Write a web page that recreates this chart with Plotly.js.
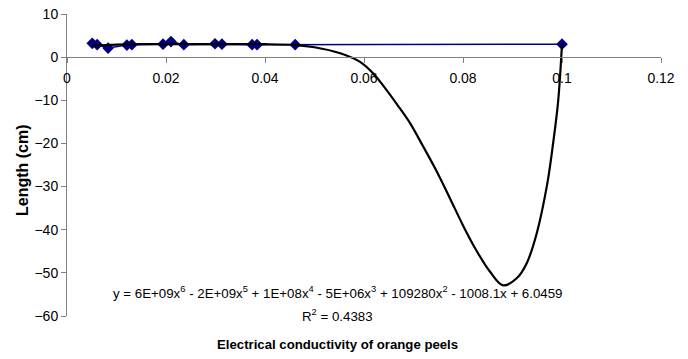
<!DOCTYPE html>
<html>
<head>
<meta charset="utf-8">
<script src="https://cdn.plot.ly/plotly-3.0.1.min.js"></script>
<style>html,body{margin:0;padding:0;background:#fff;}#chart{width:688px;height:359px;}</style>
</head>
<body>
<div id="chart"></div>
<script>
// Observed data points (electrical conductivity vs length)
var conductivity = [0.0051, 0.0061, 0.0083, 0.0121, 0.0131, 0.0194, 0.0210, 0.0236, 0.0299, 0.0313, 0.0374, 0.0384, 0.0461, 0.1000];
var lengthCm     = [3.2,    2.9,    2.1,    2.8,    2.9,    3.0,    3.6,    2.9,    3.1,    3.0,    2.9,    2.9,    2.9,    3.0];

// Polynomial (order 6) trendline
var trendX = [0.0051, 0.010, 0.015, 0.020, 0.025, 0.030, 0.035, 0.040, 0.0461, 0.0500, 0.0552, 0.0592, 0.0618, 0.0638, 0.0667, 0.0693, 0.0719, 0.0747, 0.0774, 0.0800, 0.0828, 0.0855, 0.0881, 0.0909, 0.0929, 0.0949, 0.0970, 0.0982, 0.0992, 0.1000];
var trendY = [2.6,    2.9,   3.0,   3.0,   3.0,   3.0,   3.0,   3.0,   2.8,    2.3,    0.9,    -1.1,   -3.7,   -6.5,   -11.0,  -15.3,  -20.6,  -26.5,  -32.8,  -39.0,  -45.0,  -49.8,  -52.9,  -51.2,  -47.7,  -40.8,  -29.5,  -20.0,  -10.5,  3.0];

var xTicks = [0, 0.02, 0.04, 0.06, 0.08, 0.1, 0.12];
var xTickText = ['0', '0.02', '0.04', '0.06', '0.08', '0.1', '0.12'];
var yTicks = [-60, -50, -40, -30, -20, -10, 0, 10];

var equationText = 'y = 6E+09x<sup>6</sup> - 2E+09x<sup>5</sup> + 1E+08x<sup>4</sup> - 5E+06x<sup>3</sup> + 109280x<sup>2</sup> - 1008.1x + 6.0459';
var r2Text = 'R<sup>2</sup> = 0.4383';
var xTitle = '<b>Electrical conductivity of orange peels</b>';
var yTitle = '<b>Length (cm)</b>';

var font = 'Liberation Sans, Arial, sans-serif';

var traces = [
  {
    x: conductivity, y: lengthCm, type: 'scatter', mode: 'lines+markers',
    line: {color: '#000080', width: 1.5},
    marker: {symbol: 'diamond', size: 9, color: '#000080', line: {color: '#000080', width: 0}},
    hoverinfo: 'skip', showlegend: false
  },
  {
    x: trendX, y: trendY, type: 'scatter', mode: 'lines',
    line: {color: '#000000', width: 2.2, shape: 'spline', smoothing: 1},
    hoverinfo: 'skip', showlegend: false
  }
];

var layout = {
  width: 688, height: 359,
  margin: {l: 67, r: 27, t: 14, b: 43},
  paper_bgcolor: '#ffffff', plot_bgcolor: '#ffffff',
  font: {family: font, size: 14, color: '#000'},
  showlegend: false,
  xaxis: {
    range: [0, 0.12], tickvals: xTicks, ticktext: xTickText,
    anchor: 'free', position: 6/7,
    showgrid: false, zeroline: false,
    showline: true, linecolor: '#808080', linewidth: 1,
    ticks: 'outside', ticklen: 5, tickcolor: '#808080',
    ticklabelstandoff: 3,
    tickfont: {family: font, size: 14, color: '#000'}
  },
  yaxis: {
    range: [-60, 10], tickvals: yTicks,
    showgrid: false, zeroline: false,
    showline: true, linecolor: '#808080', linewidth: 1,
    ticks: 'outside', ticklen: 5, tickcolor: '#808080',
    tickfont: {family: font, size: 14, color: '#000'}
  },
  annotations: [
    {text: equationText, xref: 'paper', yref: 'paper', x: 0.456, y: 0.079, showarrow: false, xanchor: 'center', yanchor: 'middle', font: {family: font, size: 13.3, color: '#000'}},
    {text: r2Text, xref: 'paper', yref: 'paper', x: 0.456, y: 0.003, showarrow: false, xanchor: 'center', yanchor: 'middle', font: {family: font, size: 13.3, color: '#000'}},
    {text: xTitle, xref: 'paper', yref: 'paper', x: 0.456, y: -0.096, showarrow: false, xanchor: 'center', yanchor: 'middle', font: {family: font, size: 13.2, color: '#000'}},
    {text: yTitle, xref: 'paper', yref: 'paper', x: -0.076, y: 0.483, showarrow: false, textangle: -90, xanchor: 'center', yanchor: 'middle', font: {family: font, size: 16, color: '#000'}}
  ]
};

Plotly.newPlot('chart', traces, layout, {staticPlot: true, displayModeBar: false});
</script>
</body>
</html>
